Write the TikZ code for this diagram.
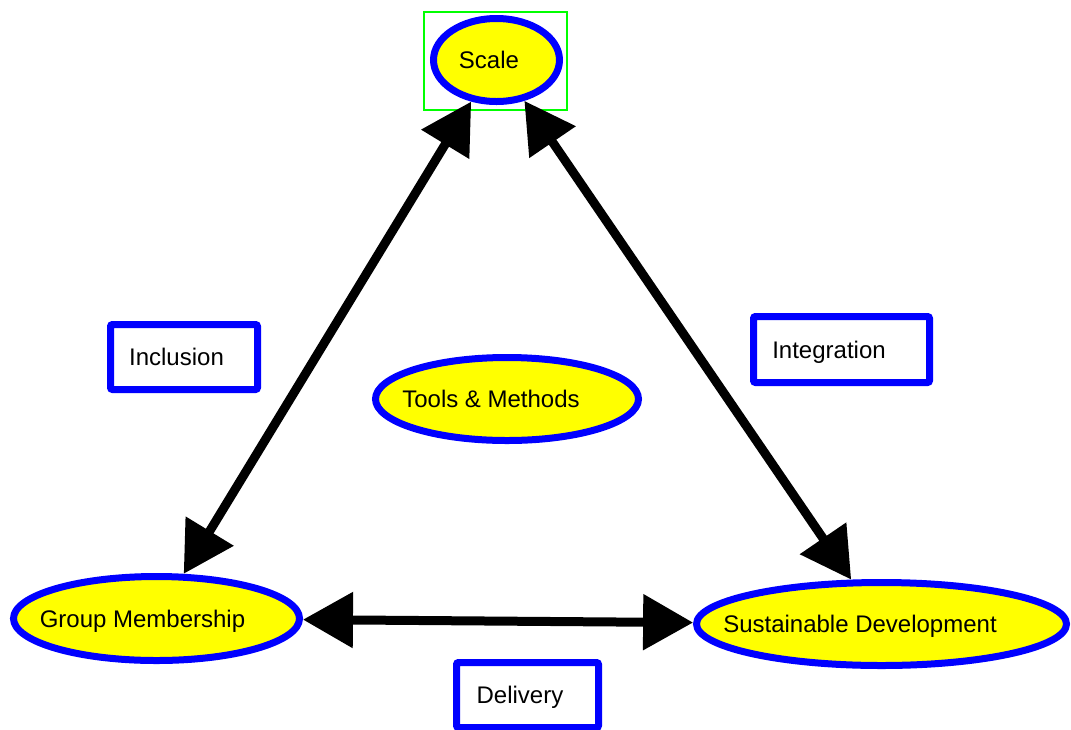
\documentclass[tikz,border=0pt]{standalone}
\usepackage{fontspec}
\setmainfont{Liberation Sans}
\usetikzlibrary{shapes.geometric,arrows.meta}
\newcommand{\offtext}[2]{\makebox[0pt]{\hspace*{-#1}#2}}
\definecolor{green}{RGB}{0,255,0}
\definecolor{blue}{RGB}{0,0,255}
\definecolor{yellow}{RGB}{255,255,0}
\begin{document}
\begin{tikzpicture}[x=1pt,y=-1pt,
  lbl/.style={text height=17pt, text depth=0pt, inner sep=0pt, font=\fontsize{24}{28}\selectfont},
  oval/.style={lbl, ellipse, draw=blue, fill=yellow, line width=7pt},
  tag/.style={lbl, rectangle, draw=blue, fill=white, line width=7pt, rounded corners=2pt},
  frame/.style={rectangle, draw=green, line width=2pt, inner sep=0pt},
  conn/.style={line width=9pt, {Triangle[length=50pt,width=54pt]}-{Triangle[length=50pt,width=54pt]}}
]
\useasboundingbox (0,0) rectangle (1071,729);

\node[frame, minimum width=143pt, minimum height=98pt] (scaleframe) at (495.5,61) {};
\node[oval, minimum width=126pt, minimum height=83pt] (scale) at (496.5,60) {\offtext{15pt}{Scale}};
\node[oval, minimum width=286pt, minimum height=84pt] (group) at (156.5,618.5) {\offtext{28pt}{Group Membership}};
\node[oval, minimum width=370pt, minimum height=83pt] (sustain) at (881.5,624) {\offtext{43pt}{Sustainable Development}};
\node[oval, minimum width=263pt, minimum height=83pt] (tools) at (507,399) {\offtext{32pt}{Tools \& Methods}};
\node[tag, minimum width=147pt, minimum height=65pt] (inclusion) at (184,357) {\offtext{15pt}{Inclusion}};
\node[tag, minimum width=176pt, minimum height=66pt] (integration) at (841.5,349.5) {\offtext{25pt}{Integration}};
\node[tag, minimum width=142pt, minimum height=65pt] (delivery) at (527.5,695) {\offtext{15pt}{Delivery}};

\draw[conn] (scale) -- (group);
\draw[conn] (scale) -- (sustain);
\draw[conn] (group) -- (sustain);
\end{tikzpicture}
\end{document}
